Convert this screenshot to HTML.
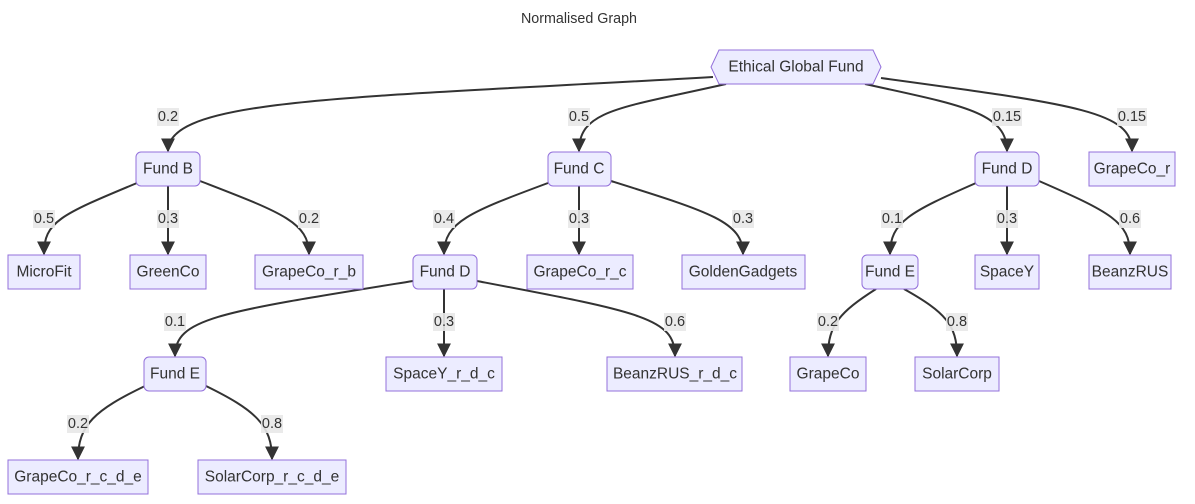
<!DOCTYPE html>
<html><head><meta charset="utf-8"><style>
html,body{margin:0;padding:0;background:#fff;}
svg{display:block;font-family:"Liberation Sans","DejaVu Sans",sans-serif;}
.n{fill:#ECECFF;stroke:#9370DB;stroke-width:1;}
.e{fill:none;stroke:#333;stroke-width:2;}
.t{font-size:15.5px;fill:#333;text-anchor:middle;dominant-baseline:central;}
.l{font-size:14.5px;}
.lb{fill:#e8e8e8;opacity:0.9;}
</style></head><body>
<svg width="1195" height="504" viewBox="0 0 1195 504" xmlns="http://www.w3.org/2000/svg">
<defs><marker id="a" viewBox="0 0 10 10" refX="9" refY="5" markerWidth="7" markerHeight="7" markerUnits="strokeWidth" orient="auto"><path d="M0,0L10,5L0,10z" fill="#333"/></marker></defs>
<text x="579" y="19" class="t" style="font-size:14.3px">Normalised Graph</text>

<g class="e" marker-end="url(#a)">
<path d="M713,77 C350,98 168,98 168,151"/>
<path d="M726,84 C620,108 579,110 579,151"/>
<path d="M865,84 C960,105 1007,112 1007,151"/>
<path d="M881,78 C1080,105 1132,112 1132,151"/>
<path d="M137,183 C60,215 44,222 44,254"/>
<path d="M168,186 L168,254"/>
<path d="M200,181 C280,212 309,222 309,254"/>
<path d="M548,183 C470,212 444,222 444,254"/>
<path d="M579,186 L579,254"/>
<path d="M611,181 C710,212 743,222 743,254"/>
<path d="M976,183 C910,212 890,222 890,254"/>
<path d="M1007,186 L1007,254"/>
<path d="M1039,181 C1110,212 1130,222 1130,254"/>
<path d="M413,281 C220,312 175,318 175,356"/>
<path d="M444,289 L444,356"/>
<path d="M477,281 C640,312 675,318 675,356"/>
<path d="M876,289 C840,312 828,325 828,356"/>
<path d="M904,289 C945,312 957,325 957,356"/>
<path d="M145,386 C95,410 78,425 78,459"/>
<path d="M206,386 C255,410 272,425 272,459"/>
</g>

<g>
<rect class="lb" x="157" y="108" width="22" height="18"/><text class="t l" x="168" y="117">0.2</text>
<rect class="lb" x="568" y="108" width="22" height="18"/><text class="t l" x="579" y="117">0.5</text>
<rect class="lb" x="992" y="108" width="30" height="18"/><text class="t l" x="1007" y="117">0.15</text>
<rect class="lb" x="1117" y="108" width="30" height="18"/><text class="t l" x="1132" y="117">0.15</text>
<rect class="lb" x="33" y="210" width="22" height="18"/><text class="t l" x="44" y="219">0.5</text>
<rect class="lb" x="157" y="210" width="22" height="18"/><text class="t l" x="168" y="219">0.3</text>
<rect class="lb" x="298" y="210" width="22" height="18"/><text class="t l" x="309" y="219">0.2</text>
<rect class="lb" x="433" y="210" width="22" height="18"/><text class="t l" x="444" y="219">0.4</text>
<rect class="lb" x="568" y="210" width="22" height="18"/><text class="t l" x="579" y="219">0.3</text>
<rect class="lb" x="732" y="210" width="22" height="18"/><text class="t l" x="743" y="219">0.3</text>
<rect class="lb" x="881" y="210" width="22" height="18"/><text class="t l" x="892" y="219">0.1</text>
<rect class="lb" x="996" y="210" width="22" height="18"/><text class="t l" x="1007" y="219">0.3</text>
<rect class="lb" x="1119" y="210" width="22" height="18"/><text class="t l" x="1130" y="219">0.6</text>
<rect class="lb" x="164" y="313" width="22" height="18"/><text class="t l" x="175" y="322">0.1</text>
<rect class="lb" x="433" y="313" width="22" height="18"/><text class="t l" x="444" y="322">0.3</text>
<rect class="lb" x="664" y="313" width="22" height="18"/><text class="t l" x="675" y="322">0.6</text>
<rect class="lb" x="817" y="313" width="22" height="18"/><text class="t l" x="828" y="322">0.2</text>
<rect class="lb" x="946" y="313" width="22" height="18"/><text class="t l" x="957" y="322">0.8</text>
<rect class="lb" x="67" y="415" width="22" height="18"/><text class="t l" x="78" y="424">0.2</text>
<rect class="lb" x="261" y="415" width="22" height="18"/><text class="t l" x="272" y="424">0.8</text>
</g>

<polygon class="n" points="719,50 873,50 881,67 873,84 719,84 711,67"/><text class="t" x="796" y="67">Ethical Global Fund</text>

<rect class="n" x="136" y="152" width="64" height="34" rx="5"/><text class="t" x="168" y="169">Fund B</text>
<rect class="n" x="548" y="152" width="63" height="34" rx="5"/><text class="t" x="579" y="169">Fund C</text>
<rect class="n" x="975" y="152" width="64" height="34" rx="5"/><text class="t" x="1007" y="169">Fund D</text>
<rect class="n" x="1089" y="152" width="86" height="34"/><text class="t" x="1132" y="169">GrapeCo_r</text>

<rect class="n" x="8" y="255" width="72" height="34"/><text class="t" x="44" y="272">MicroFit</text>
<rect class="n" x="130" y="255" width="76" height="34"/><text class="t" x="168" y="272">GreenCo</text>
<rect class="n" x="255" y="255" width="108" height="34"/><text class="t" x="309" y="272">GrapeCo_r_b</text>
<rect class="n" x="413" y="255" width="64" height="34" rx="5"/><text class="t" x="445" y="272">Fund D</text>
<rect class="n" x="527" y="255" width="106" height="34"/><text class="t" x="580" y="272">GrapeCo_r_c</text>
<rect class="n" x="682" y="255" width="123" height="34"/><text class="t" x="743" y="272">GoldenGadgets</text>
<rect class="n" x="862" y="255" width="56" height="34" rx="5"/><text class="t" x="890" y="272">Fund E</text>
<rect class="n" x="975" y="255" width="64" height="34"/><text class="t" x="1007" y="272">SpaceY</text>
<rect class="n" x="1089" y="255" width="82" height="34"/><text class="t" x="1130" y="272">BeanzRUS</text>

<rect class="n" x="144" y="357" width="62" height="34" rx="5"/><text class="t" x="175" y="374">Fund E</text>
<rect class="n" x="386" y="357" width="116" height="34"/><text class="t" x="444" y="374">SpaceY_r_d_c</text>
<rect class="n" x="607" y="357" width="135" height="34"/><text class="t" x="675" y="374">BeanzRUS_r_d_c</text>
<rect class="n" x="790" y="357" width="76" height="34"/><text class="t" x="828" y="374">GrapeCo</text>
<rect class="n" x="915" y="357" width="84" height="34"/><text class="t" x="957" y="374">SolarCorp</text>

<rect class="n" x="8" y="460" width="140" height="34"/><text class="t" x="78" y="477">GrapeCo_r_c_d_e</text>
<rect class="n" x="198" y="460" width="148" height="34"/><text class="t" x="272" y="477">SolarCorp_r_c_d_e</text>
</svg>
</body></html>
